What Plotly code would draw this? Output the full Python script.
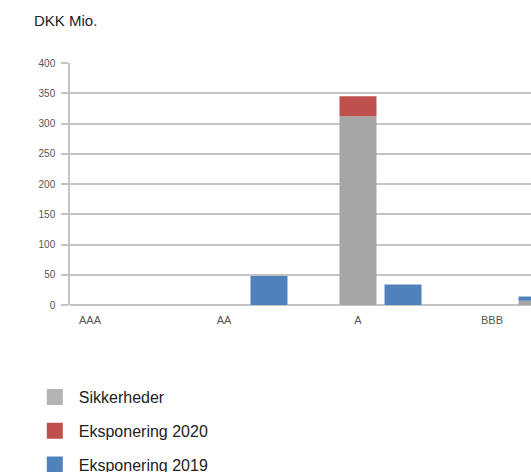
import plotly.graph_objects as go

categories = ["AAA", "AA", "A", "BBB"]
sikkerheder_2020 = [0, 0, 312, 0]
eksponering_2020 = [0, 0, 33, 0]
sikkerheder_2019 = [0, 0, 0, 7]
eksponering_2019 = [0, 48, 34, 7]

legend_names = ["Sikkerheder", "Eksponering 2020", "Eksponering 2019"]

GREY = "#a6a6a6"
RED = "#c0504d"
BLUE = "#4f81bd"
LEG_GREY = "#b4b4b4"

W = 0.276      # bar width in category units
D = 0.336      # offset of the 2019 bar centre

fig = go.Figure()
fig.add_trace(go.Bar(x=categories, y=sikkerheder_2020, width=W, offset=-W / 2,
                     marker=dict(color=GREY, line=dict(width=0)), showlegend=False))
fig.add_trace(go.Bar(x=categories, y=eksponering_2020, base=sikkerheder_2020, width=W, offset=-W / 2,
                     marker=dict(color=RED, line=dict(width=0)), showlegend=False))
fig.add_trace(go.Bar(x=categories, y=sikkerheder_2019, width=W, offset=D - W / 2,
                     marker=dict(color=GREY, line=dict(width=0)), showlegend=False))
fig.add_trace(go.Bar(x=categories, y=eksponering_2019, base=sikkerheder_2019, width=W, offset=D - W / 2,
                     marker=dict(color=BLUE, line=dict(width=0)), showlegend=False))

for name, col in zip(legend_names, [LEG_GREY, RED, BLUE]):
    fig.add_trace(go.Scatter(x=[None], y=[None], mode="markers", name=name, legendgroup=name,
                             marker=dict(symbol="square", size=16, color=col)))

FONT = "Liberation Sans, Arial, sans-serif"

fig.update_layout(
    width=531, height=472,
    margin=dict(l=70, r=0, t=63, b=167, autoexpand=False),
    paper_bgcolor="white", plot_bgcolor="white",
    barmode="overlay",
    showlegend=True,
    legend=dict(xref="container", yref="container", x=0.058, y=1 - 380 / 472,
                xanchor="left", yanchor="top", traceorder="grouped", tracegroupgap=10,
                itemwidth=38,
                font=dict(family=FONT, size=16, color="#222"), bgcolor="rgba(0,0,0,0)"),
    annotations=[dict(text="DKK Mio.", xref="paper", yref="paper", x=(32 - 70) / 461, y=1 + 42 / 242,
                      xanchor="left", yanchor="middle", showarrow=False,
                      font=dict(family=FONT, size=15, color="#222"))],
)
fig.update_xaxes(type="category", range=[-0.149, 3.291], showgrid=False, showline=False,
                 zeroline=False, ticks="", ticklabelstandoff=7,
                 tickfont=dict(family="Liberation Sans, Arial, sans-serif", size=11, color="#555"))
fig.update_yaxes(range=[0, 400], tickvals=[0, 50, 100, 150, 200, 250, 300, 350, 400],
                 showgrid=True, gridcolor="#c4c4c4", gridwidth=1.5,
                 zeroline=True, zerolinecolor="#c4c4c4", zerolinewidth=1.5,
                 showline=True, linecolor="#c4c4c4", linewidth=1.5,
                 ticks="outside", ticklen=7, tickcolor="#c4c4c4", tickwidth=1.5,
                 ticklabelstandoff=4,
                 tickfont=dict(family="Liberation Sans, Arial, sans-serif", size=10, color="#555"))

fig.write_html("out.html")
